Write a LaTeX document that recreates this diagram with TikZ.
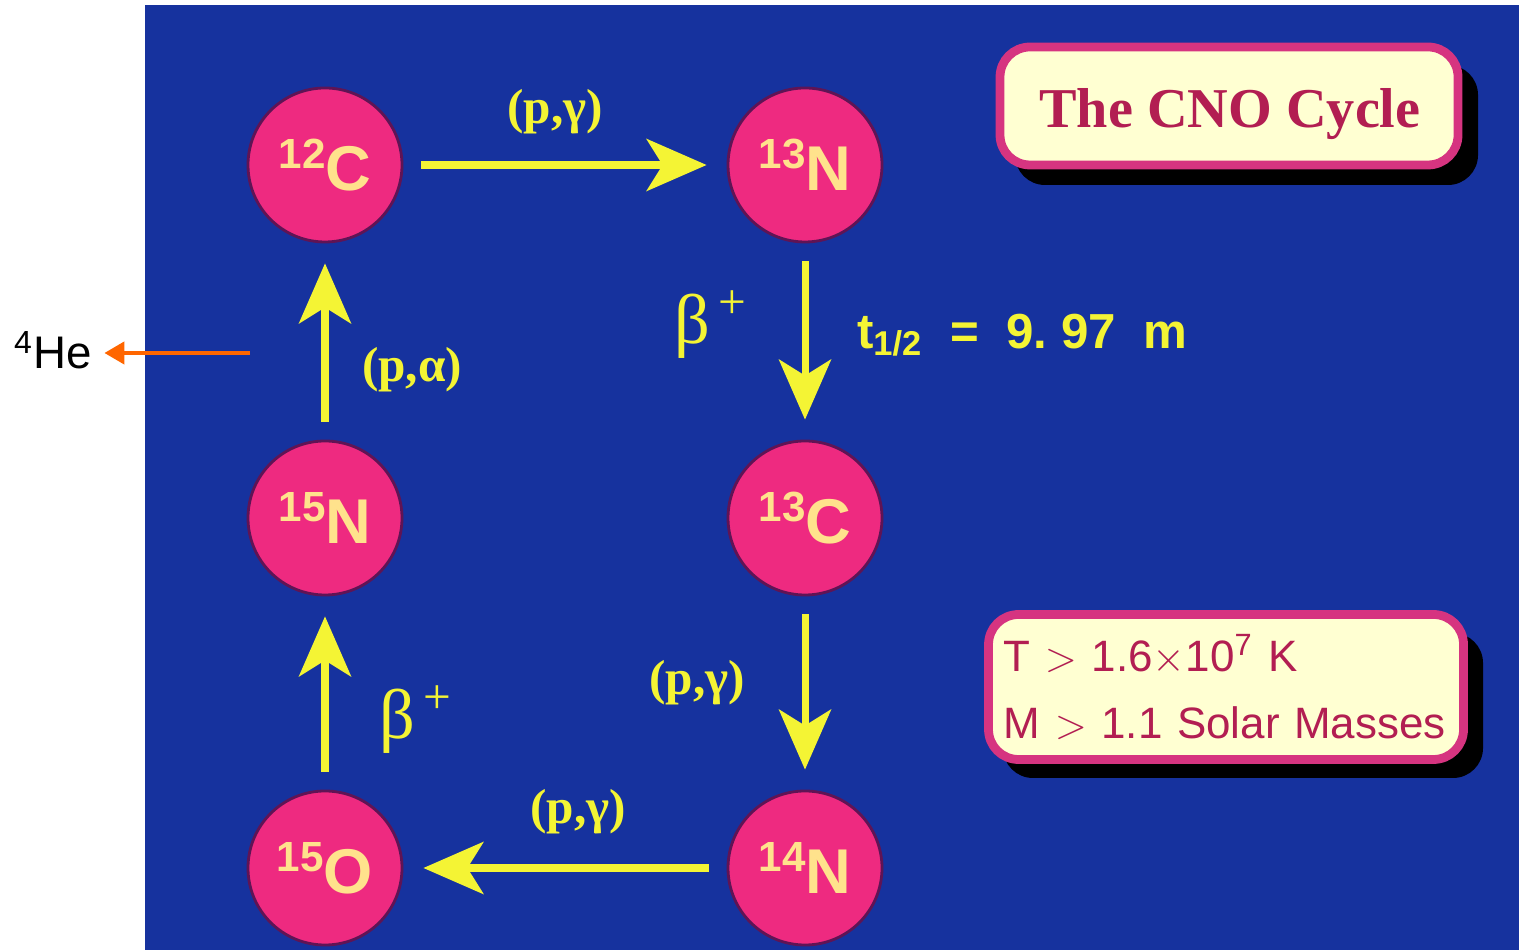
\documentclass[tikz,border=0pt]{standalone}
\usepackage{fontspec}
\setmainfont{Liberation Serif}
\setsansfont{Liberation Sans}
\usetikzlibrary{
    arrows.meta,
    positioning,
    shapes.geometric
}

\definecolor{bgblue}{RGB}{22,50,158}
\definecolor{nucpink}{RGB}{238,42,128}
\definecolor{nucrim}{RGB}{95,20,85}
\definecolor{nuctext}{RGB}{255,226,140}
\definecolor{arryellow}{RGB}{244,244,52}
\definecolor{boxcream}{RGB}{255,255,210}
\definecolor{boxrim}{RGB}{214,52,128}
\definecolor{boxtext}{RGB}{178,30,82}
\definecolor{heorange}{RGB}{255,102,0}

\newcommand{\iso}[2]{\raisebox{0.22cm}{\fontsize{12}{12}\selectfont #1}{\fontsize{18}{18}\selectfont #2}}

\begin{document}
\begin{tikzpicture}[
        nucleus/.style={circle, draw=nucrim, line width=0.8pt, fill=nucpink, minimum size=1.54cm, inner sep=0pt, text=nuctext, font=\sffamily\bfseries},
        cycarrow/.style={-{Stealth[length=6mm, width=5.2mm, inset=1.6mm]}, line width=2pt, arryellow, shorten <=0.18cm, shorten >=0.2cm},
        reaction/.style={text=arryellow, font=\fontsize{14}{16}\selectfont\bfseries},
        decay/.style={text=arryellow, font=\fontsize{20}{20}\selectfont},
        infobox/.style={draw=boxrim, line width=2.5pt, fill=boxcream, rounded corners=0.3cm},
    ]
        \useasboundingbox (0,0) rectangle (15.19,9.5);
        \fill[bgblue] (1.45,0) rectangle (15.19,9.45);

        % Nuclei
        \foreach \name/\pos/\mass/\el in {c12/{3.25,7.85}/12/C, n13/{8.05,7.85}/13/N, c13/{8.05,4.32}/13/C,
                                          n14/{8.05,0.82}/14/N, o15/{3.25,0.82}/15/O, n15/{3.25,4.32}/15/N} {
            \node[nucleus] (\name) at (\pos) {\iso{\mass}{\el}};
        }

        % Cycle arrows
        \draw[cycarrow] (c12) -- (n13);
        \draw[cycarrow] (n13) -- (c13);
        \draw[cycarrow] (c13) -- (n14);
        \draw[cycarrow] (n14) -- (o15);
        \draw[cycarrow] (o15) -- (n15);
        \draw[cycarrow] (n15) -- (c12);

        % Reaction labels
        \node[reaction] (pg1) at (5.55,8.38) {(p,γ)};
        \node[reaction] (pg2) at (6.97,2.67) {(p,γ)};
        \node[reaction] (pg3) at (5.78,1.38) {(p,γ)};
        \node[reaction] (pa) at (4.12,5.80) {(p,α)};
        \node[decay] (bp1) at (7.10,6.25) {β\raisebox{0.25cm}{\fontsize{14}{14}\selectfont\,+}};
        \node[decay] (bp2) at (4.15,2.30) {β\raisebox{0.25cm}{\fontsize{14}{14}\selectfont\,+}};
        \node[text=arryellow, font=\sffamily\bfseries\fontsize{14}{16}\selectfont] (thalf) at (10.22,6.15)
            {t\textsubscript{1/2}\ \ =\ \ 9.\ 97\ \ m};

        % Title box
        \fill[black, rounded corners=0.3cm] (10.15,7.65) rectangle (14.78,8.85);
        \node[infobox, minimum width=4.58cm, minimum height=1.18cm] (title) at (12.29,8.44) {};
        \node[text=boxtext, font=\fontsize{16}{18}\selectfont\bfseries] (titletext) at (12.30,8.36) {The CNO Cycle};

        % Conditions box
        \fill[black, rounded corners=0.3cm] (10.03,1.72) rectangle (14.83,3.17);
        \node[infobox, minimum width=4.75cm, minimum height=1.45cm, text=boxtext, align=left,
              font=\sffamily\fontsize{12.5}{19}\selectfont, text width=4.45cm] (cond) at (12.26,2.63)
            {T $>$ 1.6$\times$10\textsuperscript{7} K\\M $>$ 1.1 Solar Masses};

        % Helium out
        \node[font=\sffamily\fontsize{13}{15}\selectfont] (he4) at (0.53,6.0) {\textsuperscript{4}He};
        \coordinate (heout) at (2.5,5.97);
        \draw[-{Triangle[length=2mm, width=2.2mm]}, heorange, line width=1.2pt] (heout) -- (heout -| he4.east);
    \end{tikzpicture}
\end{document}
